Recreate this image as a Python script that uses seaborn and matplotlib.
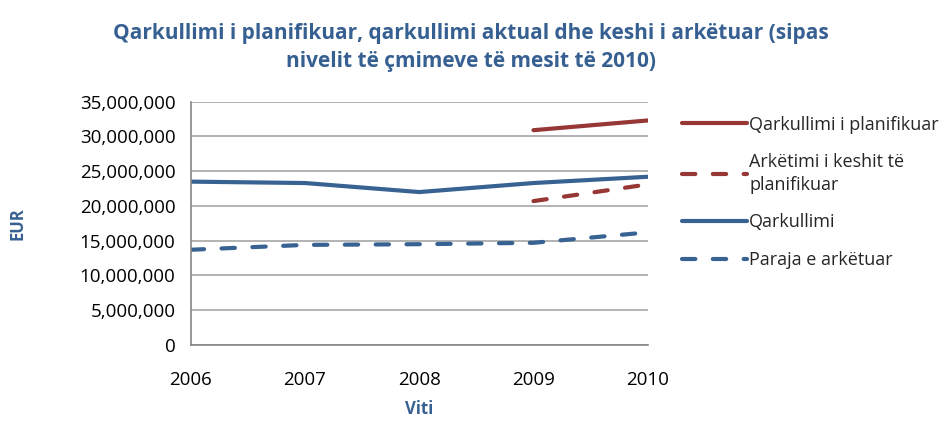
import matplotlib.pyplot as plt
import seaborn as sns
import pandas as pd

# data
years = [2006, 2007, 2008, 2009, 2010]
qark_planif = [None, None, None, 30.9e6, 32.3e6]
arket_planif = [None, None, None, 20.7e6, 23.1e6]
qarkullimi = [23.5e6, 23.3e6, 22.0e6, 23.3e6, 24.2e6]
paraja = [13.7e6, 14.4e6, 14.5e6, 14.7e6, 16.2e6]

series_names = ['Qarkullimi i planifikuar', 'Arkëtimi i keshit të\nplanifikuar',
                'Qarkullimi', 'Paraja e arkëtuar']

frames = []
for name, vals in zip(series_names, [qark_planif, arket_planif, qarkullimi, paraja]):
    frames.append(pd.DataFrame({'Viti': years, 'EUR': vals, 'Seria': name}))
df = pd.concat(frames).dropna()

red = '#963735'
blue = '#386292'
palette = {series_names[0]: red, series_names[1]: red,
           series_names[2]: blue, series_names[3]: blue}
dashes = {series_names[0]: '', series_names[1]: (3.2, 4.2),
          series_names[2]: '', series_names[3]: (3.2, 4.2)}

sns.set_style('white')
plt.rcParams['font.family'] = ['Open Sans', 'DejaVu Sans']

fig = plt.figure(figsize=(9.42, 4.23), dpi=100)
ax = fig.add_axes([0.2025, 0.1844, 0.4851, 0.5752])

sns.lineplot(data=df, x='Viti', y='EUR', hue='Seria', style='Seria',
             hue_order=series_names, style_order=series_names,
             palette=palette, dashes=dashes, linewidth=3,
             ax=ax, legend=True)
for line in ax.lines:
    line.set_dash_capstyle('round')
    line.set_solid_capstyle('round')

ax.set_xlim(2006, 2010)
ax.set_ylim(0, 35e6)
ax.set_xticks(years)
ax.set_yticks(range(0, 35000001, 5000000))
ax.yaxis.set_major_formatter(plt.FuncFormatter(lambda v, p: f'{int(v):,}'))
ax.grid(axis='y', color='#a6a6a6', linewidth=1.2)
ax.set_axisbelow(True)
for s in ['top', 'right']:
    ax.spines[s].set_visible(False)
for s in ['left', 'bottom']:
    ax.spines[s].set_color('#868686')
    ax.spines[s].set_linewidth(1.2)
ax.tick_params(axis='both', which='both', direction='out', length=5, width=1.2,
               color='#868686', labelsize=13.5, labelcolor='black', pad=6)
ax.tick_params(axis='x', pad=14)

ax.set_xlabel('Viti', fontsize=12, fontweight='bold', color='#376092', labelpad=8)
ax.set_ylabel('EUR', fontsize=12, fontweight='bold', color='#376092', labelpad=38)

fig.suptitle('Qarkullimi i planifikuar, qarkullimi aktual dhe keshi i arkëtuar (sipas\n'
             'nivelit të çmimeve të mesit të 2010)',
             x=0.5, y=0.945, fontsize=15, fontweight='bold', color='#376092',
             linespacing=1.4)

handles, labels = ax.get_legend_handles_labels()
leg = ax.legend(handles, labels, loc='upper left', bbox_to_anchor=(1.04, 1.01),
                frameon=False, fontsize=13, handlelength=3.6, handletextpad=0.1,
                labelspacing=1.1)
for t in leg.get_texts():
    t.set_linespacing(1.3)

fig.savefig('out.png', dpi=100)
